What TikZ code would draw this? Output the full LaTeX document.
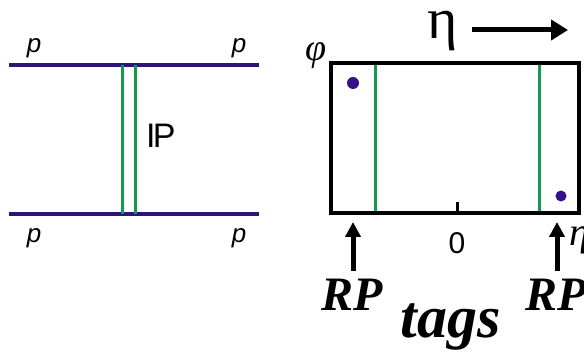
\documentclass[tikz,border=0pt]{standalone}
\usepackage{fontspec}
\setmainfont{Liberation Serif}
\newfontfamily\arialfont{Liberation Sans}
\usepackage{xcolor}
\usepackage{tikz}
\usetikzlibrary{arrows.meta}

\definecolor{protonline}{HTML}{2E1670}
\definecolor{pomeron}{HTML}{139A4E}
\definecolor{hitdot}{HTML}{35108A}

\tikzset{
  proton/.style={line width=4pt, protonline},
  pomline/.style={line width=3pt, pomeron},
  plabel/.style={font=\arialfont\itshape\fontsize{26}{26}\selectfont, anchor=base, inner sep=0pt},
  tagtext/.style={font=\bfseries\itshape\fontsize{48}{48}\selectfont, anchor=base, inner sep=0pt},
  uparrow/.style={line width=5pt, -{Triangle[length=15pt,width=15pt]}},
}

\begin{document}
\begin{tikzpicture}[x=1pt, y=-1pt]
			\useasboundingbox (0,0) rectangle (584,352);
			
			% diagrama p p -> p p
			\coordinate (tl) at (9,65);   \coordinate (tr) at (259,65);
			\coordinate (bl) at (9,214);  \coordinate (br) at (259,214);
			\draw[proton] (tl) -- (tr);
			\draw[proton] (bl) -- (br);
			\foreach \x/\n in {122/a, 135/b} {
				\coordinate (pt\n) at (\x,65);
				\coordinate (pb\n) at (\x,214);
				\draw[pomline] (pt\n) -- (pb\n);
			}
			\node[plabel] (p1) at (34,53) {p};
			\node[plabel] (p2) at (239,53) {p};
			\node[plabel] (p3) at (34,243) {p};
			\node[plabel] (p4) at (239,243) {p};
			\node[anchor=base west, inner sep=0pt, font=\arialfont\fontsize{34}{34}\selectfont] (pom) at (146,148) {I\kern-0.08em P};
			
			% plano eta-phi
			\draw[line width=4pt, line join=miter] (331,63) rectangle (579,213);
			\foreach \x/\n in {375/l, 539/r} {
				\coordinate (gt\n) at (\x,65);
				\coordinate (gb\n) at (\x,211);
				\draw[pomline] (gt\n) -- (gb\n);
			}
			\fill[hitdot] (353,83) circle (6);
			\fill[hitdot] (561,196) circle (5.5);
			\coordinate (tick) at (457,202);
			\draw[line width=3pt] (tick) -- (457,212);
			\node[anchor=base, inner sep=0pt, font=\arialfont\fontsize{30}{30}\selectfont] (zero) at (457,254) {0};
			\node[anchor=base, inner sep=0pt, font=\itshape\fontsize{38}{38}\selectfont] (phi) at (316,61) {φ};
			\node[anchor=base west, inner sep=0pt, font=\itshape\fontsize{40}{40}\selectfont] (etaax) at (569,246) {η};
			
			\node[anchor=base, inner sep=0pt, font=\fontsize{58}{58}\selectfont] (eta) at (443,39) {η};
			\coordinate (etaend) at (568,30);
			\draw[line width=5pt, -{Triangle[length=17pt,width=20pt]}] (472,30) -- (etaend);
			
			% etiquetas RP
			\node[tagtext] (rpl) at (352,311) {RP};
			\node[tagtext, anchor=base west] (rpr) at (525,311) {RP};
			\node[anchor=base, inner sep=0pt, font=\bfseries\itshape\fontsize{60}{60}\selectfont] (tags) at (451,338) {tags};
			\coordinate (tipl) at (353,222);
			\coordinate (tipr) at (557,222);
			\draw[uparrow] (353,271) -- (tipl);
			\draw[uparrow] (557,271) -- (tipr);
		\end{tikzpicture}
\end{document}
